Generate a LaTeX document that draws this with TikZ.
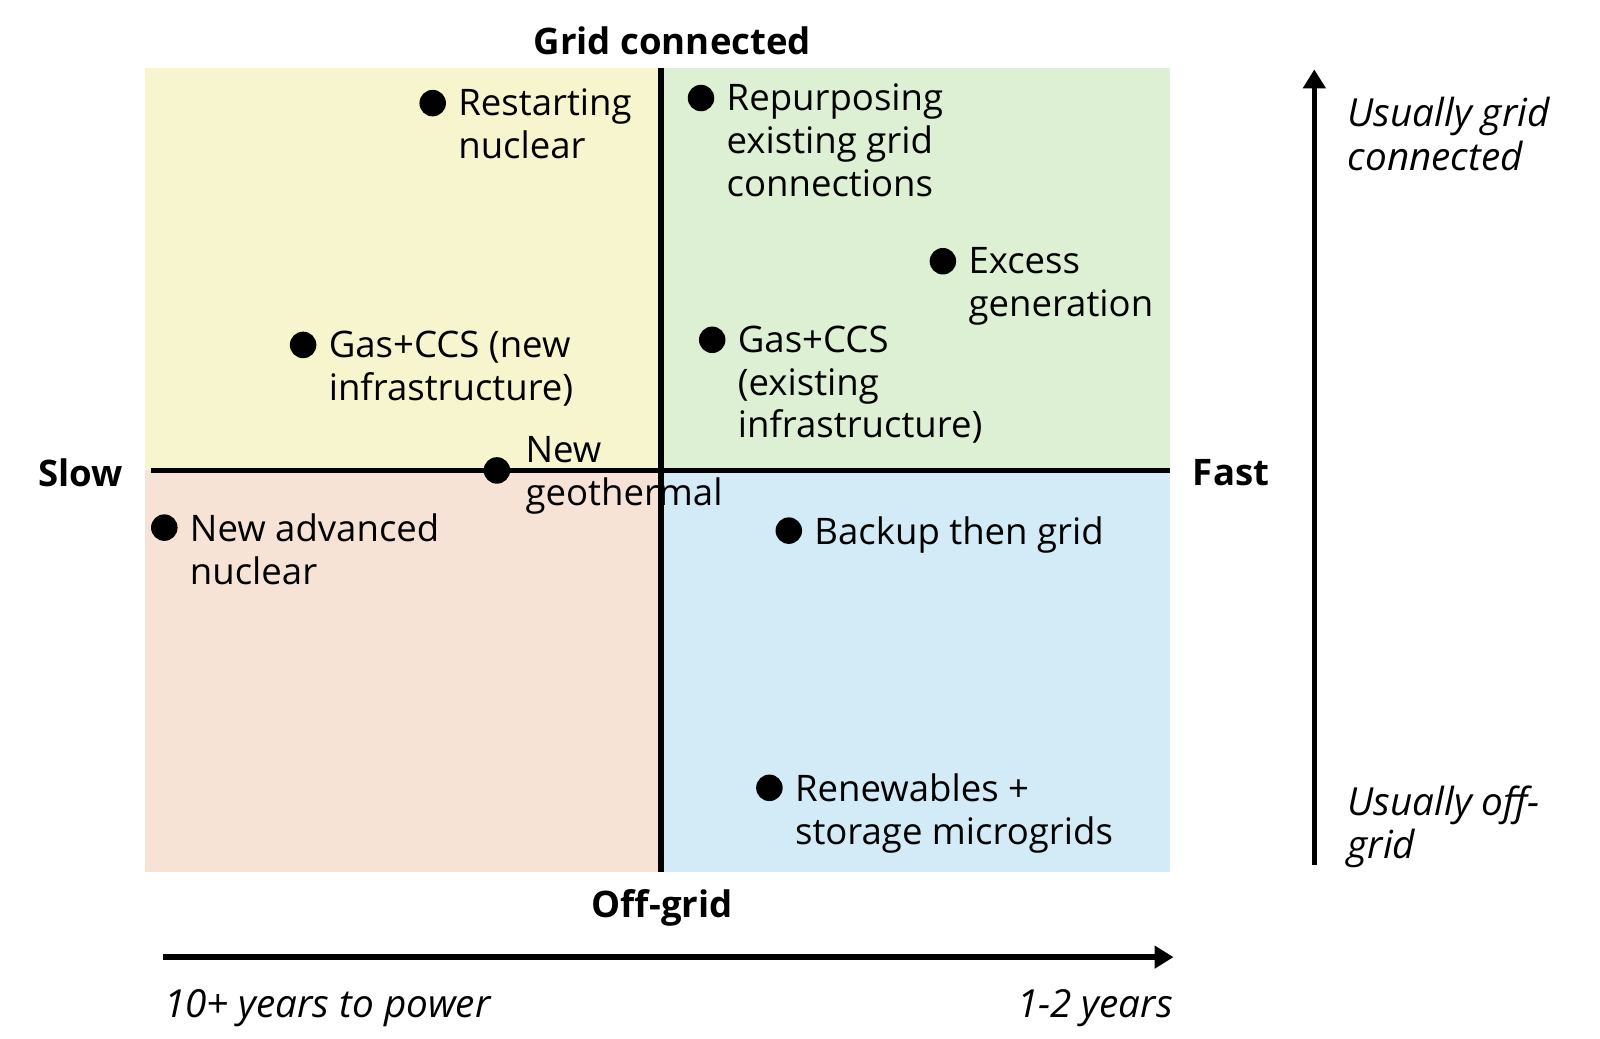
\documentclass[tikz,border=0pt]{standalone}
\usepackage{fontspec}
\setmainfont{Open Sans}
\usetikzlibrary{arrows.meta,positioning}
\definecolor{quadyel}{RGB}{247,245,205}
\definecolor{quadgrn}{RGB}{222,240,211}
\definecolor{quadred}{RGB}{246,227,214}
\definecolor{quadblu}{RGB}{210,235,247}

\begin{document}
\begin{tikzpicture}[>={Triangle[length=1.9mm,width=2.2mm]}, font=\fontsize{10.4pt}{12.2pt}\selectfont, every node/.style={inner sep=0pt},
  dot/.style={circle,fill=black,minimum size=0.265cm},
  lbl/.style={align=left,anchor=north west,xshift=0.11cm,yshift=4.2pt},
  axis/.style={font=\fontsize{10.4pt}{12.2pt}\selectfont\bfseries},
  hint/.style={align=left,font=\fontsize{11pt}{12.4pt}\selectfont\itshape}]
  \useasboundingbox (0,0) rectangle (16,-10.38);
  \fill[quadyel] (1.449,-0.684) rectangle (6.612,-4.704);
  \fill[quadgrn] (6.612,-0.684) rectangle (11.704,-4.704);
  \fill[quadred] (1.449,-4.704) rectangle (6.612,-8.724);
  \fill[quadblu] (6.612,-4.704) rectangle (11.704,-8.724);
  \coordinate (hl) at (1.51,-4.704);
  \coordinate (hr) at (11.704,-4.704);
  \coordinate (vt) at (6.612,-0.684);
  \coordinate (vb) at (6.612,-8.724);
  \draw[line width=1.6pt] (hl) -- (hr);
  \draw[line width=1.6pt] (vt) -- (vb);
  \node[axis] (gc) at (6.724,-0.408) {Grid connected};
  \node[axis] (og) at (6.622,-9.082) {Off-grid};
  \node[axis] (slow) at (0.806,-4.724) {Slow};
  \node[axis] (fast) at (12.31,-4.724) {Fast};
  \node[dot] (rn) at (4.327,-1.031) {};
  \node[lbl] (rnl) at (rn.east) {Restarting\\nuclear};
  \node[dot] (rp) at (7.010,-0.980) {};
  \node[lbl] (rpl) at (rp.east) {Repurposing\\existing grid\\connections};
  \node[dot] (ex) at (9.429,-2.612) {};
  \node[lbl] (exl) at (ex.east) {Excess\\generation};
  \node[dot] (gn) at (3.031,-3.449) {};
  \node[lbl] (gnl) at (gn.east) {Gas+CCS (new\\infrastructure)};
  \node[dot] (ge) at (7.122,-3.398) {};
  \node[lbl] (gel) at (ge.east) {Gas+CCS\\(existing\\infrastructure)};
  \node[dot] (geo) at (4.969,-4.704) {};
  \node[align=left,right=0.14cm of geo,yshift=-0.045cm] (geol) {New\\geothermal};
  \node[dot] (nan) at (1.643,-5.276) {};
  \node[lbl] (nanl) at (nan.east) {New advanced\\nuclear};
  \node[dot] (bk) at (7.888,-5.306) {};
  \node[lbl] (bkl) at (bk.east) {Backup then grid};
  \node[dot] (rw) at (7.694,-7.878) {};
  \node[lbl] (rwl) at (rw.east) {Renewables +\\storage microgrids};
  \coordinate (xa) at (1.633,-9.571);
  \coordinate (xb) at (11.735,-9.571);
  \draw[->,line width=1.6pt] (xa) -- (xb);
  \node[hint,anchor=west] (slowtxt) at (1.633,-10.08) {10+ years to power};
  \node[hint,anchor=east] (fasttxt) at (11.735,-10.08) {1-2 years};
  \coordinate (ya) at (13.143,-8.653);
  \coordinate (yb) at (13.143,-0.694);
  \draw[->,line width=1.6pt] (ya) -- (yb);
  \node[hint,anchor=west] (ongrid) at (13.47,-1.342) {Usually grid\\connected};
  \node[hint,anchor=west] (offgrid) at (13.47,-8.27) {Usually off-\\grid};
\end{tikzpicture}
\end{document}
